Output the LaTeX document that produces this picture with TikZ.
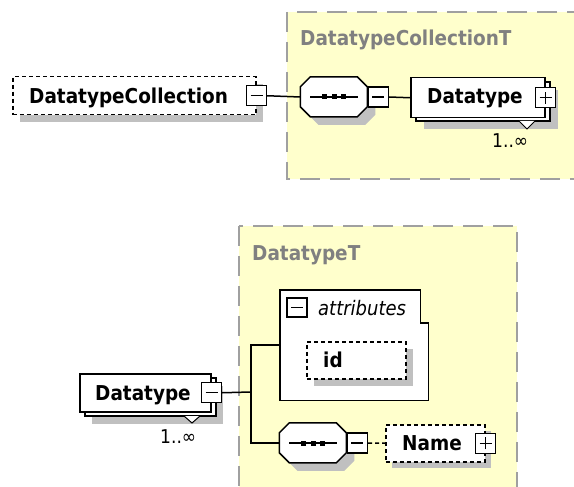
\documentclass[tikz,border=0pt]{standalone}
\usepackage{fontspec}
\setmainfont{DejaVu Sans Condensed}
\usetikzlibrary{calc}
\definecolor{ylw}{RGB}{255,255,204}
\definecolor{shd}{RGB}{192,192,192}
\definecolor{bord}{RGB}{160,160,160}
\definecolor{ttl}{RGB}{128,128,128}
\tikzset{
  typebox/.style={draw=bord, fill=ylw, line width=2pt, dash pattern=on 20pt off 10pt},
  shadow/.style={fill=shd, draw=none},
  elem/.style={draw, fill=white, line width=1.5pt, inner sep=0pt, anchor=north west},
  optelem/.style={elem, dash pattern=on 4pt off 3pt},
  btn/.style={draw, fill=white, line width=1.4pt, inner sep=0pt, minimum width=20pt, minimum height=20pt},
  minusbtn/.style={btn, path picture={\draw[line width=1.4pt] ([xshift=4pt]path picture bounding box.west) -- ([xshift=-4pt]path picture bounding box.east);}},
  plusbtn/.style={btn, path picture={\draw[line width=1.4pt] ([xshift=4pt]path picture bounding box.west) -- ([xshift=-4pt]path picture bounding box.east) ([yshift=4pt]path picture bounding box.south) -- ([yshift=-4pt]path picture bounding box.north);}},
  lbl/.style={font=\fontsize{20.5}{24}\selectfont\bfseries, inner sep=0pt, anchor=base west},
  ttllbl/.style={lbl, text=ttl},
  attlbl/.style={font=\fontsize{20}{24}\selectfont\itshape, inner sep=0pt, anchor=base west},
  multlbl/.style={font=\fontsize{19}{22}\selectfont, inner sep=0pt, anchor=base west},
  conn/.style={line width=1.5pt},
  optconn/.style={conn, dash pattern=on 4pt off 3pt},
  tri/.style={draw, fill=white, line width=1pt},
  seqhold/.style={inner sep=0pt, minimum width=67pt, minimum height=40pt}
}
\newcommand{\seqdraw}[1]{%
  \fill[shadow] ($(#1.north west)+(18,8)$) -- ++(47,0) -- ++(10,10) -- ++(0,20) -- ++(-10,10) -- ++(-47,0) -- ++(-10,-10) -- ++(0,-20) -- cycle;
  \draw[conn, fill=white] ($(#1.north west)+(10,0)$) -- ++(47,0) -- ++(10,10) -- ++(0,20) -- ++(-10,10) -- ++(-47,0) -- ++(-10,-10) -- ++(0,-20) -- cycle;
  \draw[conn] ([xshift=10pt]#1.west) -- ([xshift=-10pt]#1.east);
  \foreach \d in {-9.5,0,9.5} \fill ($(#1.center)+(\d-2.5,-2.5)$) rectangle ++(5,5);
}
\begin{document}
\begin{tikzpicture}[x=1pt,y=-1pt]
\clip (0,0) rectangle (574,487);
\fill[white] (0,0) rectangle (574,487);

% ---------- top diagram ----------
\draw[typebox] (287,12) rectangle (600,179);
\node[ttllbl] (t1) at (300,46) {DatatypeCollectionT};

\fill[shadow] (20,84) rectangle (263,122);
\node[optelem, minimum width=243pt, minimum height=38pt] (dc) at (12,76) {};
\node[lbl] (dct) at (29,104) {DatatypeCollection};
\node[minusbtn] (dcm) at (dc.east) {};

\node[seqhold] (s1) at (334,97) {};
\seqdraw{s1}
\node[minusbtn, anchor=west] (s1m) at (s1.east) {};

\fill[shadow] (424,90) rectangle (558,129);
\draw[line width=1.5pt, fill=white] (416,82) rectangle (550,121);
\node[elem, minimum width=134pt, minimum height=40pt] (dt1) at (410,77) {};
\node[lbl] (dt1t) at (427,104) {Datatype};
\node[plusbtn] (dt1p) at (dt1.east) {};
\draw[tri] (519,121) -- (527,129) -- (535,121);
\node[multlbl] (m1) at (492,148) {1..∞};

\draw[conn] (dcm.east) -- (s1.west);
\draw[conn] (s1m.east) -- (dt1.west);

% ---------- bottom diagram ----------
\draw[typebox] (239,226) rectangle (517,520);
\node[ttllbl] (t2) at (252,260) {DatatypeT};

\fill[shadow] (92,386) rectangle (223,424);
\draw[line width=1.5pt, fill=white] (85,378) rectangle (216,416);
\node[elem, minimum width=131pt, minimum height=38pt] (dt2) at (79,373) {};
\node[lbl] (dt2t) at (95,400) {Datatype};
\node[minusbtn] (dt2m) at (dt2.east) {};
\draw[tri] (184,416) -- (192,423) -- (200,416);
\node[multlbl] (m2) at (160,443) {1..∞};

\node[inner sep=0pt, minimum width=148pt, minimum height=110pt, anchor=north west] (attr) at (280,290) {};
\draw[line width=1.5pt, fill=white] (attr.north west) -- ([xshift=-8pt]attr.north east) -- ([xshift=-8pt, yshift=-33pt]attr.north east) -- ([yshift=-33pt]attr.north east) -- (attr.south east) -- (attr.south west) -- cycle;
\node[minusbtn, minimum height=19pt] (attrm) at (297,307.5) {};
\node[attlbl] (attrt) at (318,315) {attributes};

\fill[shadow] (314,349) rectangle (413,386);
\node[optelem, minimum width=99pt, minimum height=37pt] (id) at (306,341) {};
\node[lbl] (idt) at (323,367) {id};

\node[seqhold] (s2) at (313,443) {};
\seqdraw{s2}
\node[minusbtn, anchor=west] (s2m) at (s2.east) {};

\fill[shadow] (392,431) rectangle (491,468);
\node[optelem, minimum width=99pt, minimum height=37pt] (name) at (385,424) {};
\node[lbl] (namet) at (402,450) {Name};
\node[plusbtn] (namep) at (name.east) {};

\coordinate (trunk) at (251,392);
\draw[conn] (dt2m.east) -- (trunk);
\draw[conn] (attr.west) -| (trunk) |- (s2.west);
\draw[optconn] (s2m.east) -- (name.west);
\end{tikzpicture}
\end{document}
